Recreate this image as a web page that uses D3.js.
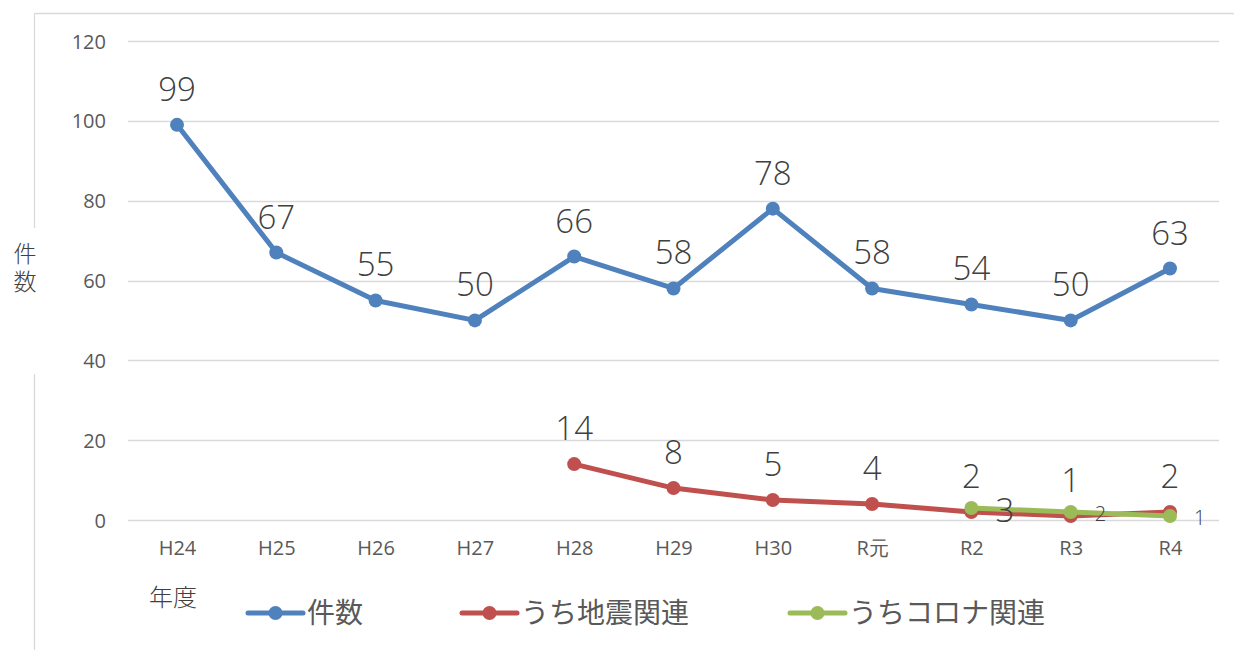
<!DOCTYPE html>
<html>
<head>
<meta charset="utf-8">
<script src="https://cdn.jsdelivr.net/npm/d3@7"></script>
<style>
  body { margin: 0; background: #fff; }
  svg { display: block; }
</style>
</head>
<body>
<svg width="1234" height="650"></svg>
<script>
//	chart data
var years = ["H24", "H25", "H26", "H27", "H28", "H29", "H30", "R元", "R2", "R3", "R4"];
var totalCases = [99, 67, 55, 50, 66, 58, 78, 58, 54, 50, 63];
var quakeCases = [null, null, null, null, 14, 8, 5, 4, 2, 1, 2];
var coronaCases = [null, null, null, null, null, null, null, null, 3, 2, 1];
var yTicks = [0, 20, 40, 60, 80, 100, 120];

var series = [
  { name: "件数", values: totalCases, color: "#4F81BD", labelPos: "top", labelSize: 33 },
  { name: "うち地震関連", values: quakeCases, color: "#C0504D", labelPos: "top", labelSize: 33 },
  { name: "うちコロナ関連", values: coronaCases, color: "#9BBB59", labelPos: "right", labelSize: [33, 20, 20] }
];

var svg = d3.select("svg"),
    width = +svg.attr("width"),
    height = +svg.attr("height");

var jpFont = "'Noto Sans CJK JP', sans-serif";
var numFont = "'Open Sans', 'Noto Sans', sans-serif";
var textColor = "#595959";

// outer frame (top + left, left broken around axis title)
var frame = svg.append("g").attr("stroke", "#d9d9d9").attr("stroke-width", 1.3);
frame.append("line").attr("x1", 34.5).attr("x2", width).attr("y1", 13.5).attr("y2", 13.5);
frame.append("line").attr("x1", 34.5).attr("x2", 34.5).attr("y1", 13.5).attr("y2", 228);
frame.append("line").attr("x1", 34.5).attr("x2", 34.5).attr("y1", 374).attr("y2", height);

//	scales
var x = d3.scalePoint()
    .domain(years)
    .range([177, 1170]);

var y = d3.scaleLinear()
    .domain([0, 120])
    .range([520, 41]);

// gridlines
svg.append("g")
    .selectAll("line")
    .data(yTicks)
    .enter().append("line")
    .attr("x1", 128)
    .attr("x2", 1219)
    .attr("y1", function(d) { return Math.round(y(d)) + 0.5; })
    .attr("y2", function(d) { return Math.round(y(d)) + 0.5; })
    .attr("stroke", "#d9d9d9")
    .attr("stroke-width", 1.3);

// y axis labels
var yAxis = svg.append("g")
    .attr("transform", "translate(106,0)")
    .call(d3.axisLeft(y).tickValues(yTicks).tickSize(0).tickPadding(0))
    .attr("font-family", numFont)
    .attr("font-size", 20);
yAxis.select(".domain").remove();
yAxis.selectAll("text")
    .style("font-size", "20px")
    .attr("fill", textColor)
    .attr("dy", "0.35em");

// x axis labels
var xAxis = svg.append("g")
    .attr("transform", "translate(0,541)")
    .call(d3.axisBottom(x).tickSize(0).tickPadding(0))
    .attr("font-family", numFont)
    .attr("font-size", 20);
xAxis.select(".domain").remove();
xAxis.selectAll("text")
    .style("font-size", "20px")
    .attr("fill", textColor)
    .attr("dy", "0.71em");

// axis titles
svg.append("text")
    .attr("x", 25)
    .attr("y", 242)
    .attr("font-family", jpFont)
    .attr("font-size", 23)
    .attr("font-weight", 300)
    .attr("fill", "#404040")
    .style("writing-mode", "vertical-rl")
    .style("letter-spacing", "5px")
    .text("件数");

svg.append("text")
    .attr("x", 149)
    .attr("y", 606)
    .attr("font-family", jpFont)
    .attr("font-size", 24)
    .attr("font-weight", 300)
    .attr("fill", "#404040")
    .text("年度");

// lines + markers
var line = d3.line()
    .defined(function(d) { return d.v != null; })
    .x(function(d) { return x(d.year); })
    .y(function(d) { return y(d.v); });

series.forEach(function(s) {
  var pts = years.map(function(yr, i) { return { year: yr, v: s.values[i] }; });
  var g = svg.append("g");

  g.append("path")
      .datum(pts)
      .attr("fill", "none")
      .attr("stroke", s.color)
      .attr("stroke-width", 5)
      .attr("stroke-linejoin", "round")
      .attr("d", line);

  var valid = pts.filter(function(d) { return d.v != null; });

  g.selectAll("circle")
      .data(valid)
      .enter().append("circle")
      .attr("cx", function(d) { return x(d.year); })
      .attr("cy", function(d) { return y(d.v); })
      .attr("r", 7)
      .attr("fill", s.color);

  s.labels = valid;
});

// data labels drawn on top of all lines
series.forEach(function(s) {
  svg.append("g")
      .selectAll("text")
      .data(s.labels)
      .enter().append("text")
      .attr("font-family", numFont)
      .attr("font-weight", 300)
      .attr("fill", "#404040")
      .attr("font-size", function(d, i) {
        return Array.isArray(s.labelSize) ? s.labelSize[i] : s.labelSize;
      })
      .attr("text-anchor", s.labelPos == "top" ? "middle" : "start")
      .attr("x", function(d, i) {
        if (s.labelPos == "top") return x(d.year);
        return x(d.year) + 24;
      })
      .attr("y", function(d, i) {
        if (s.labelPos == "top") return y(d.v) - 24;
        return y(d.v) + (i == 0 ? 14 : 9);
      })
      .text(function(d) { return d.v; });
});

// legend
var legendX = [248, 462, 790];
var legend = svg.append("g")
    .selectAll("g")
    .data(series)
    .enter().append("g")
    .attr("transform", function(d, i) { return "translate(" + legendX[i] + ",613)"; });

legend.append("line")
    .attr("x1", 0).attr("x2", 55)
    .attr("stroke", function(d) { return d.color; })
    .attr("stroke-width", 5)
    .attr("stroke-linecap", "round");
legend.append("circle")
    .attr("cx", 27.5)
    .attr("r", 7)
    .attr("fill", function(d) { return d.color; });
legend.append("text")
    .attr("x", 59)
    .attr("dy", "0.35em")
    .attr("font-family", jpFont)
    .attr("font-size", 28)
    .attr("fill", textColor)
    .text(function(d) { return d.name; });
</script>
</body>
</html>
